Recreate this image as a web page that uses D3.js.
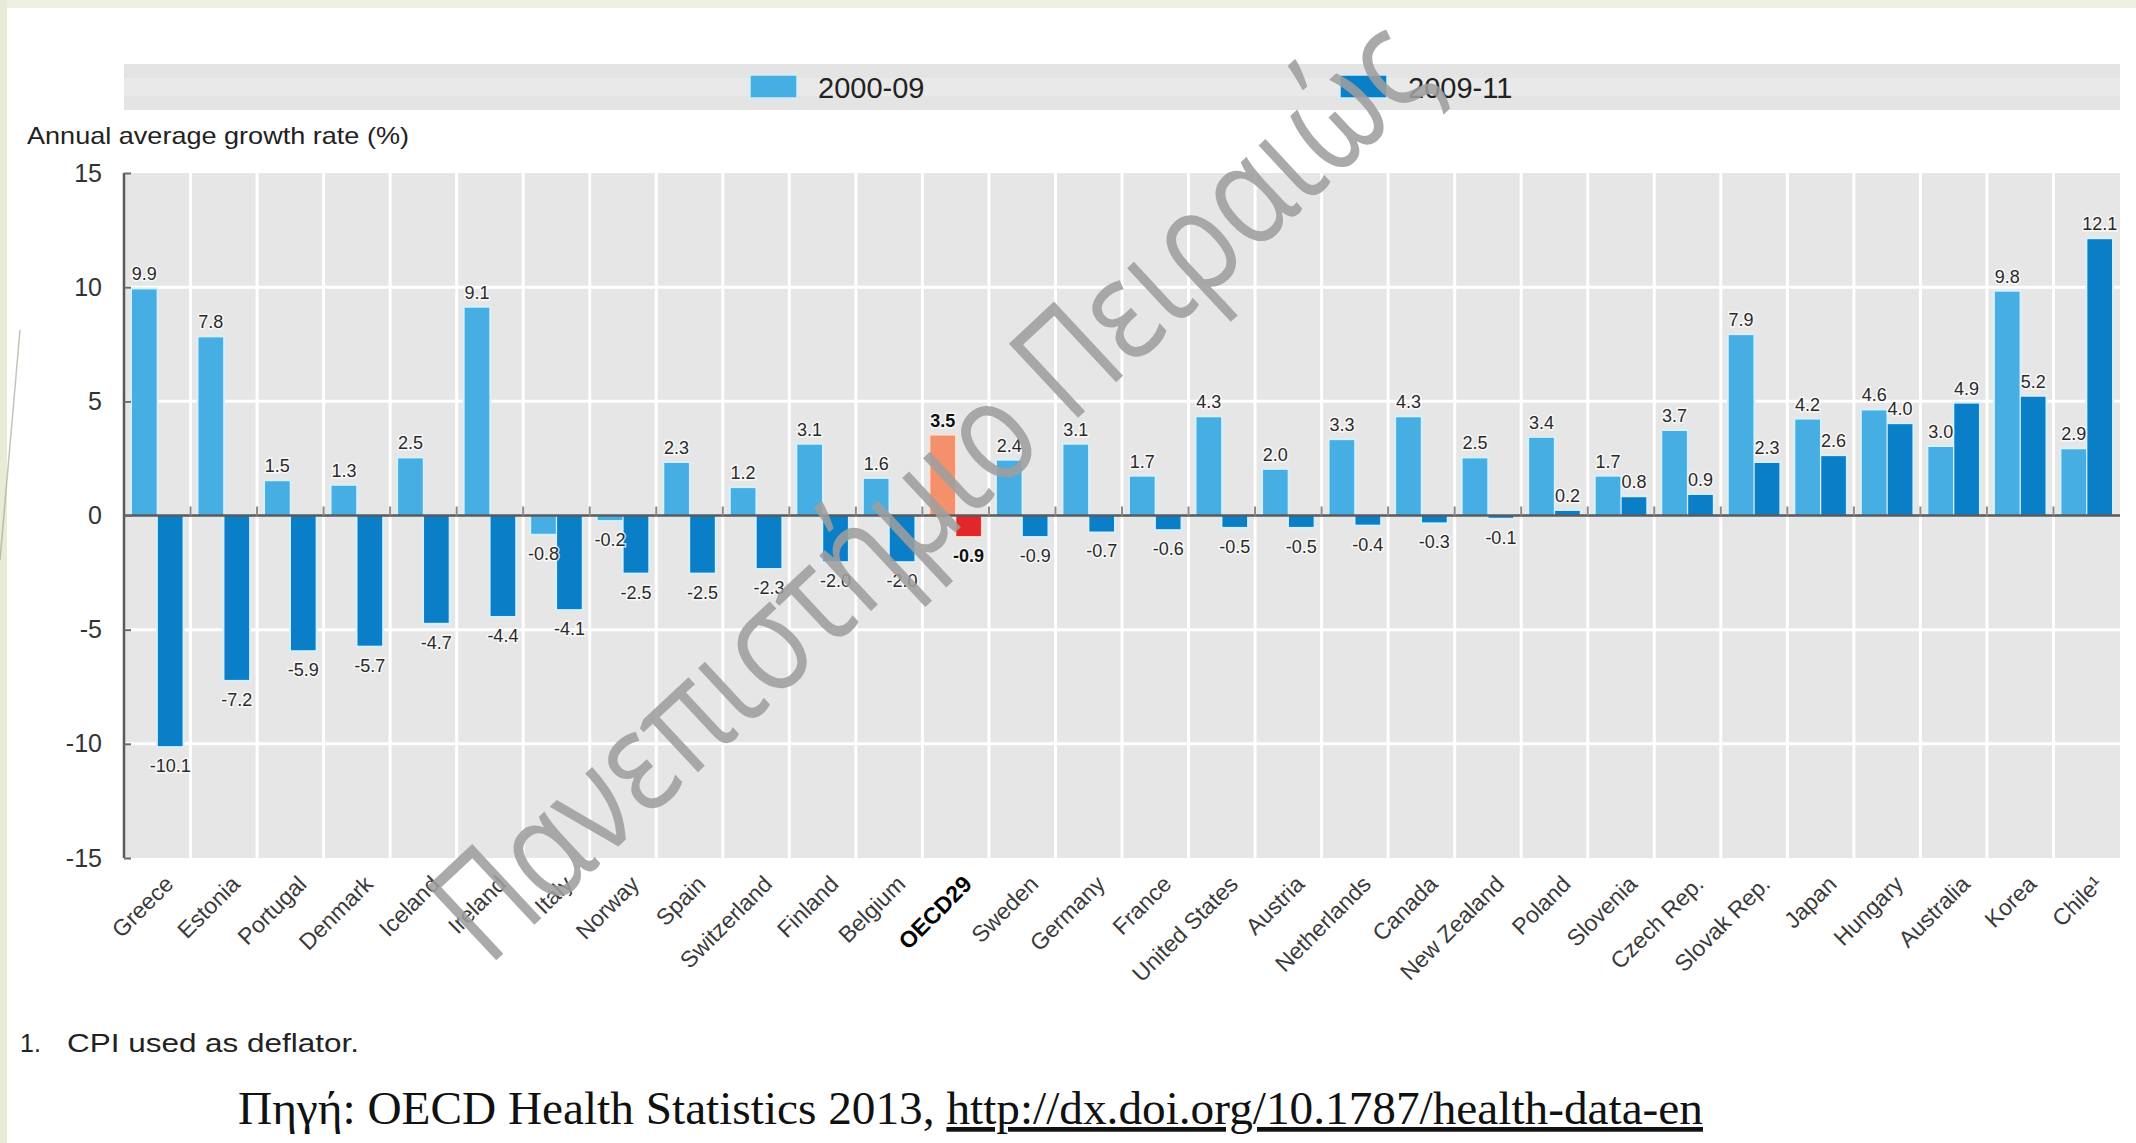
<!DOCTYPE html>
<html>
<head>
<meta charset="utf-8">
<script src="https://cdn.jsdelivr.net/npm/d3@7"></script>
<style>
  html, body { margin: 0; padding: 0; background: #ffffff; }
  svg { display: block; }
</style>
</head>
<body>
<script>
// ---- Data ----
const countries = ["Greece","Estonia","Portugal","Denmark","Iceland","Ireland","Italy","Norway","Spain","Switzerland","Finland","Belgium","OECD29","Sweden","Germany","France","United States","Austria","Netherlands","Canada","New Zealand","Poland","Slovenia","Czech Rep.","Slovak Rep.","Japan","Hungary","Australia","Korea","Chile¹"];
const growth2000_09 = [9.9,7.8,1.5,1.3,2.5,9.1,-0.8,-0.2,2.3,1.2,3.1,1.6,3.5,2.4,3.1,1.7,4.3,2.0,3.3,4.3,2.5,3.4,1.7,3.7,7.9,4.2,4.6,3.0,9.8,2.9];
const growth2009_11 = [-10.1,-7.2,-5.9,-5.7,-4.7,-4.4,-4.1,-2.5,-2.5,-2.3,-2.0,-2.0,-0.9,-0.9,-0.7,-0.6,-0.5,-0.5,-0.4,-0.3,-0.1,0.2,0.8,0.9,2.3,2.6,4.0,4.9,5.2,12.1];
const seriesNames = ["2000-09","2009-11"];
const yTicks = [-15,-10,-5,0,5,10,15];
const yTitle = "Annual average growth rate (%)";
const footNum = "1.";
const footText = "CPI used as deflator.";
const sourcePrefix = "Πηγή: OECD Health Statistics 2013, ";
const sourceUrl = "http://dx.doi.org/10.1787/health-data-en";
const watermark = "Πανεπιστήμιο Πειραιώς";
const highlight = "OECD29";

// ---- Styles ----
const W = 2136, H = 1143;
const colors = ["#47aee3", "#0a7fc7"];
const hiColors = ["#f4916c", "#e3262a"];
const FONT = "'Liberation Sans', Arial, sans-serif";
const loc = d3.formatLocale({decimal: ".", thousands: ",", grouping: [3], currency: ["", ""], minus: "-"});
const fmt1 = loc.format(".1f");
const fmt0 = loc.format("d");

const svg = d3.select("body").append("svg").attr("width", W).attr("height", H);

// slide background decorations
svg.append("rect").attr("x",0).attr("y",0).attr("width",W).attr("height",H).attr("fill","#ffffff");
svg.append("rect").attr("x",0).attr("y",0).attr("width",W).attr("height",8).attr("fill","#eef1e2");
svg.append("rect").attr("x",0).attr("y",0).attr("width",7).attr("height",H).attr("fill","#e8ecd6");
svg.append("line").attr("x1",20).attr("y1",330).attr("x2",0).attr("y2",560)
  .attr("stroke","#9aa08a").attr("stroke-width",1.5).attr("opacity",0.6);

const plot = {left:124, right:2120, top:173, bottom:858};

const x0 = d3.scaleBand().domain(countries).range([plot.left, plot.right])
  .paddingInner(0.24).paddingOuter(0.12);
const x1 = d3.scaleBand().domain(seriesNames).range([0, x0.bandwidth()]).paddingInner(0.05);
const y = d3.scaleLinear().domain([-15, 15]).range([plot.bottom, plot.top]);
const step = x0.step();
const catStart = c => x0(c) - x0.paddingOuter() * step;

// legend band
svg.append("rect").attr("x",124).attr("y",64).attr("width",1996).attr("height",46).attr("fill","#e4e4e4");
svg.append("rect").attr("x",124).attr("y",78).attr("width",1996).attr("height",18).attr("fill","#e9e9e9");
const legendX = [750, 1340];
seriesNames.forEach((s, i) => {
  svg.append("rect").attr("x", legendX[i]).attr("y", 75).attr("width", 47).attr("height", 23)
    .attr("fill", colors[i]).attr("stroke", "#cdeefc").attr("stroke-width", 1.5);
  svg.append("text").attr("x", legendX[i] + 68).attr("y", 98).text(s)
    .attr("font-family", FONT).attr("font-size", 29).attr("fill", "#222");
});

// y-axis title
svg.append("text").attr("x", 27).attr("y", 144).text(yTitle)
  .attr("font-family", FONT).attr("font-size", 24).attr("fill", "#222")
  .attr("textLength", 382).attr("lengthAdjust", "spacingAndGlyphs");

// plot background
svg.append("rect").attr("x", plot.left).attr("y", plot.top)
  .attr("width", plot.right - plot.left).attr("height", plot.bottom - plot.top).attr("fill", "#e6e6e6");

// horizontal gridlines
svg.append("g").selectAll("line").data(yTicks.filter(t => t !== 0 && Math.abs(t) !== 15)).join("line")
  .attr("x1", plot.left).attr("x2", plot.right).attr("y1", d => y(d)).attr("y2", d => y(d))
  .attr("stroke", "#ffffff").attr("stroke-width", 3);

// vertical category separators
svg.append("g").selectAll("line").data(countries.slice(1)).join("line")
  .attr("x1", d => catStart(d)).attr("x2", d => catStart(d))
  .attr("y1", plot.top).attr("y2", plot.bottom)
  .attr("stroke", "#ffffff").attr("stroke-width", 3);

// bars
const rows = [];
countries.forEach((c, i) => {
  [growth2000_09[i], growth2009_11[i]].forEach((v, s) => rows.push({c, s, v}));
});
const barColor = d => (d.c === highlight ? hiColors : colors)[d.s];

const gBars = svg.append("g");
gBars.selectAll("rect.halo").data(rows).join("rect").attr("class","halo")
  .attr("x", d => x0(d.c) + x1(seriesNames[d.s]))
  .attr("width", x1.bandwidth())
  .attr("y", d => Math.min(y(d.v), y(0)))
  .attr("height", d => Math.abs(y(d.v) - y(0)))
  .attr("fill", "none").attr("stroke", d => d.c === highlight ? "#fbe1d6" : "#d6f0fc").attr("stroke-width", 4);
gBars.selectAll("rect.bar").data(rows).join("rect").attr("class","bar")
  .attr("x", d => x0(d.c) + x1(seriesNames[d.s]))
  .attr("width", x1.bandwidth())
  .attr("y", d => Math.min(y(d.v), y(0)))
  .attr("height", d => Math.abs(y(d.v) - y(0)))
  .attr("fill", barColor);

// zero line
svg.append("line").attr("x1", plot.left).attr("x2", plot.right).attr("y1", y(0)).attr("y2", y(0))
  .attr("stroke", "#5a5a5a").attr("stroke-width", 2.5);
// small ticks at category boundaries on zero line
svg.append("g").selectAll("line").data(countries.slice(1)).join("line")
  .attr("x1", d => catStart(d)).attr("x2", d => catStart(d))
  .attr("y1", y(0) - 9).attr("y2", y(0))
  .attr("stroke", "#8a8a8a").attr("stroke-width", 2);

// value labels
svg.append("g").selectAll("text").data(rows).join("text")
  .attr("x", d => x0(d.c) + x1(seriesNames[d.s]) + x1.bandwidth() / 2)
  .attr("y", d => d.v >= 0 ? y(d.v) - 9 : y(d.v) + 26)
  .attr("text-anchor", "middle")
  .attr("font-family", FONT).attr("font-size", 18)
  .attr("font-weight", d => d.c === highlight ? "bold" : "normal")
  .attr("fill", d => d.c === highlight ? "#111" : "#2a2a2a")
  .attr("stroke", "#ffffff").attr("stroke-width", 3).attr("stroke-opacity", 0.7)
  .attr("paint-order", "stroke")
  .text(d => fmt1(d.v));

// y axis
const yAxis = svg.append("g").attr("transform", `translate(${plot.left},0)`)
  .call(d3.axisLeft(y).tickValues(yTicks).tickSize(-7).tickPadding(22).tickFormat(fmt0));
yAxis.select(".domain").attr("stroke", "#5a5a5a").attr("stroke-width", 2.5)
  .attr("d", `M0,${plot.top}V${plot.bottom}`);
yAxis.selectAll(".tick line").attr("stroke", "#6a6a6a").attr("stroke-width", 2);
yAxis.selectAll(".tick text").attr("font-family", FONT).attr("font-size", 25).attr("fill", "#333");

// x labels (rotated)
svg.append("g").selectAll("text").data(countries).join("text")
  .attr("transform", d => `translate(${x0(d) + x0.bandwidth() / 2 + 6},${plot.bottom + 16}) rotate(-45)`)
  .attr("text-anchor", "end").attr("dy", "0.71em")
  .attr("font-family", FONT).attr("font-size", 23)
  .attr("font-weight", d => d === highlight ? "bold" : "normal")
  .attr("fill", d => d === highlight ? "#000" : "#3a3a3a")
  .text(d => d);

// footnote
svg.append("text").attr("x", 20).attr("y", 1052).text(footNum)
  .attr("font-family", FONT).attr("font-size", 25).attr("fill", "#222");
svg.append("text").attr("x", 67).attr("y", 1052).text(footText)
  .attr("font-family", FONT).attr("font-size", 25).attr("fill", "#222")
  .attr("textLength", 292).attr("lengthAdjust", "spacingAndGlyphs");

// source
const src = svg.append("text").attr("x", 238).attr("y", 1124)
  .attr("font-family", "'Liberation Serif', 'Times New Roman', serif").attr("font-size", 47).attr("fill", "#111")
  .attr("textLength", 1465).attr("lengthAdjust", "spacingAndGlyphs");
src.append("tspan").text(sourcePrefix);
src.append("tspan").text(sourceUrl).attr("text-decoration", "underline");

// watermark
svg.append("text")
  .attr("transform", "translate(488,968) rotate(-43)")
  .attr("font-family", "'Open Sans', 'Noto Sans', sans-serif").attr("font-size", 142)
  .attr("fill", "#9e9e9e").attr("fill-opacity", 0.88)
  .attr("textLength", 1300).attr("lengthAdjust", "spacingAndGlyphs")
  .text(watermark);
</script>
</body>
</html>
